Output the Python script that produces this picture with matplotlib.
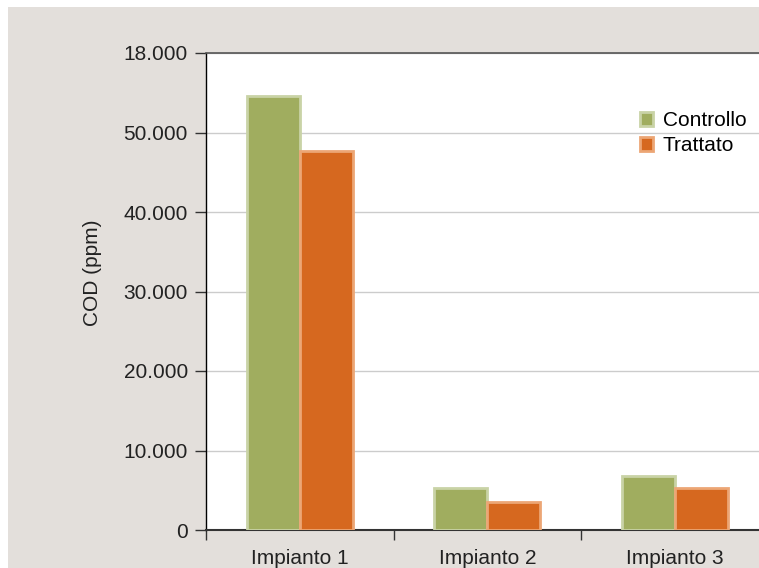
import matplotlib.pyplot as plt
from matplotlib.patches import Rectangle

categories = ['Impianto 1', 'Impianto 2', 'Impianto 3']
controllo = [54600, 5300, 6800]
trattato = [47700, 3500, 5300]
y_ticks = [0, 10000, 20000, 30000, 40000, 50000, 60000]
y_tick_labels = ['0', '10.000', '20.000', '30.000', '40.000', '50.000', '18.000']

green = '#a0ad5f'
green_edge = '#c9d3a6'
orange = '#d6681f'
orange_edge = '#eca675'
bg = '#e3dfdb'
fs = 15

plt.rcParams['font.family'] = ['Liberation Sans', 'DejaVu Sans']

fig = plt.figure(figsize=(7.59, 5.68), dpi=100, facecolor='white')
fig.patches.append(Rectangle((8 / 759, 0), 1, 1 - 7 / 568, transform=fig.transFigure,
                             facecolor=bg, edgecolor='none', zorder=-10))

ax = fig.add_axes([206 / 759, 38 / 568, 562.5 / 759, 477 / 568])
ax.set_facecolor('white')

x = list(range(len(categories)))
w = 0.283
ax.bar([i - w / 2 for i in x], controllo, width=w, color=green,
       edgecolor=green_edge, linewidth=2, zorder=3, label='Controllo')
ax.bar([i + w / 2 for i in x], trattato, width=w, color=orange,
       edgecolor=orange_edge, linewidth=2, zorder=3, label='Trattato')

ax.set_xlim(-0.5, 2.5)
ax.set_ylim(0, 60000)
ax.set_yticks(y_ticks)
ax.set_yticklabels(y_tick_labels, fontsize=fs, color='#222222')
ax.set_xticks(x)
ax.set_xticklabels(categories, fontsize=fs, color='#222222')
ax.set_xticks([-0.5, 0.5, 1.5], minor=True)
ax.tick_params(axis='x', which='major', length=0, pad=14)
ax.tick_params(axis='x', which='minor', length=7, width=1, color='#333333')
ax.tick_params(axis='y', length=8, width=1, color='#333333', pad=5)

ax.grid(axis='y', color='#cccccc', linewidth=1, zorder=0)
ax.set_axisbelow(True)

ax.spines['left'].set_color('black')
ax.spines['left'].set_linewidth(1)
ax.spines['bottom'].set_color('#333333')
ax.spines['bottom'].set_linewidth(1.5)
ax.spines['top'].set_color('#555555')
ax.spines['top'].set_linewidth(1.2)
ax.spines['right'].set_visible(False)

ax.set_ylabel('COD (ppm)', fontsize=fs, color='#222222', labelpad=20)
ax.yaxis.set_label_coords(-104 / 562.5, (530 - 273) / 477)

ax.legend(loc='upper left', bbox_to_anchor=(434 / 562.5, (530 - 111) / 477), frameon=False,
          fontsize=fs, handlelength=0.6, handleheight=0.65, handletextpad=0.5,
          labelspacing=0.3, borderaxespad=0, borderpad=0)

fig.savefig('out.png', dpi=100, facecolor=fig.get_facecolor())
